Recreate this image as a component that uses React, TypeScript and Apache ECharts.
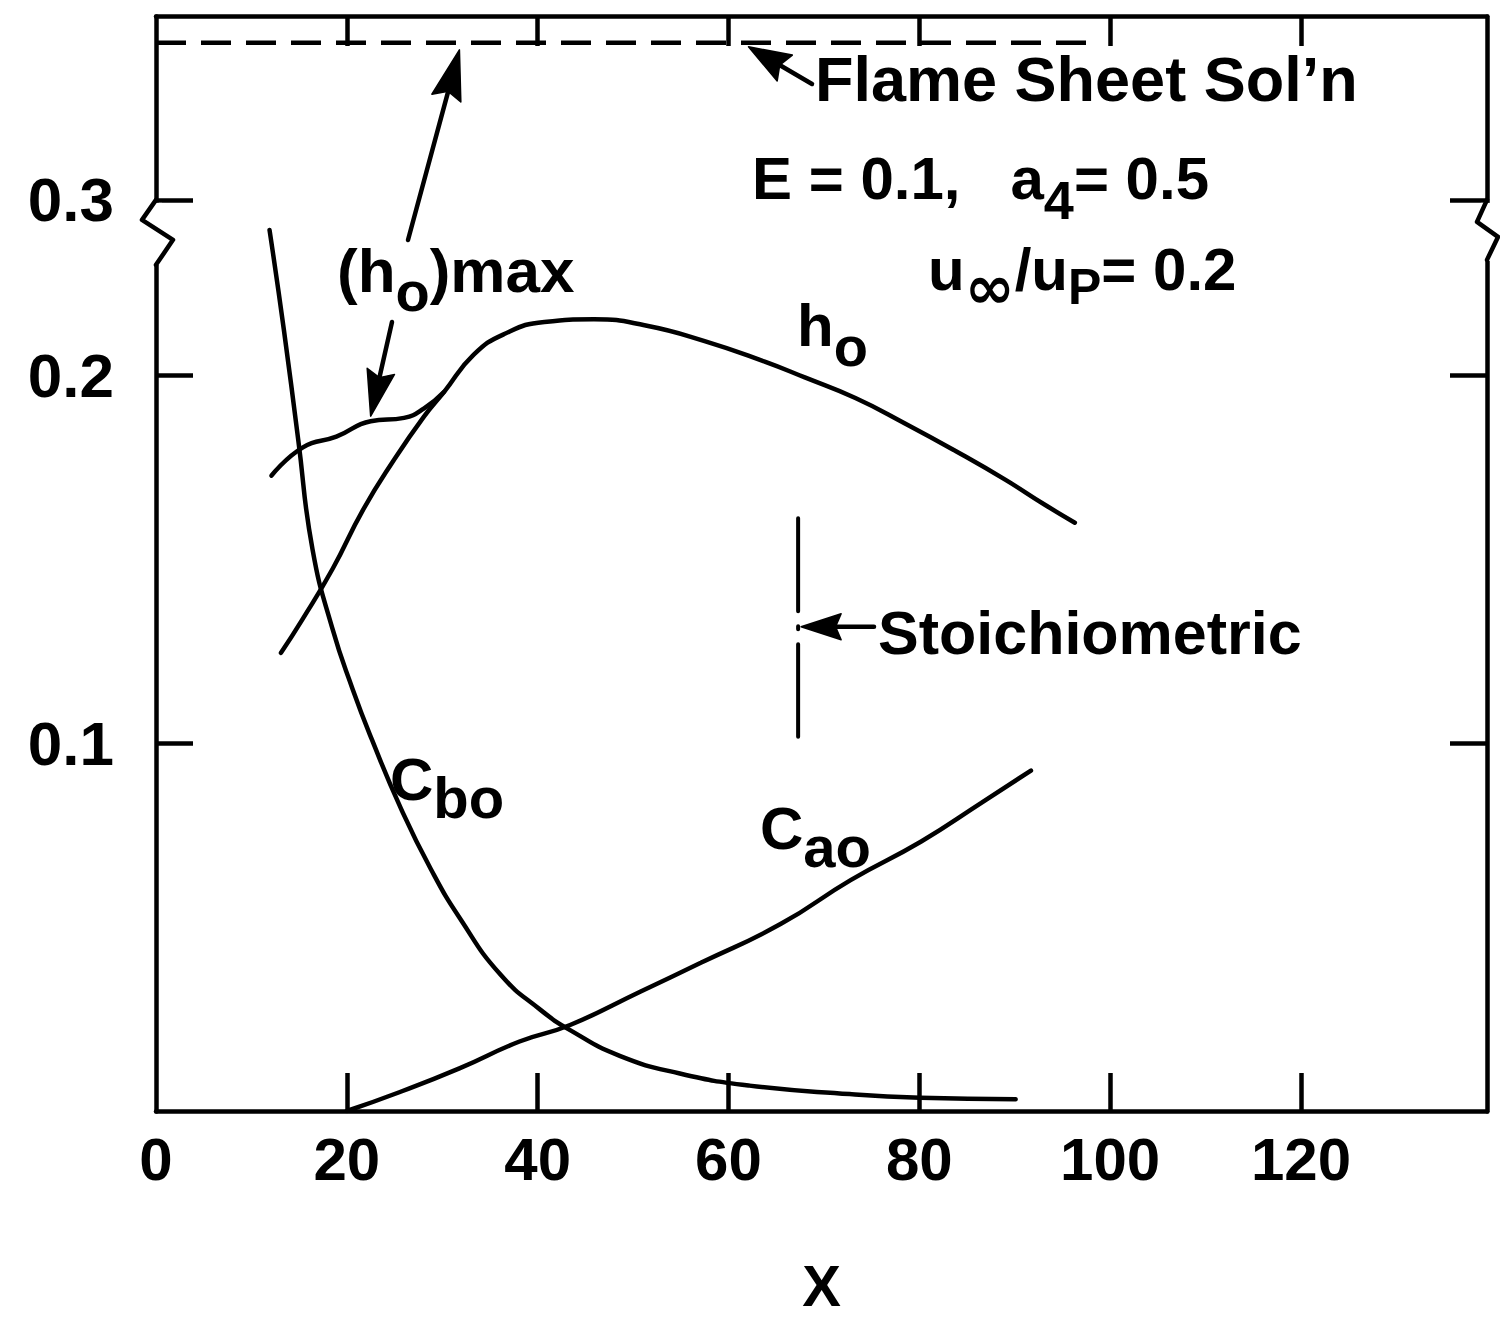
import React, { useEffect, useRef } from "react";
import * as echarts from "echarts";

const FONT_FAMILY = "'Liberation Sans', Arial, Helvetica, sans-serif";
const SYMBOL_FAMILY = "'DejaVu Sans', sans-serif";
const INK = "#000";

// Axis tick values
const xTicks = [0, 20, 40, 60, 80, 100, 120];
const yTicks = [0.1, 0.2, 0.3];
const xMax = 139.5;
const yMax = 0.35;

// Break in the ordinate between the lower and upper pieces of the scale
const yBreakStart = 0.2419;
const yBreakEnd = 0.2941;

// C_bo profile
const cboX = [11.9, 13.4, 14.9, 16.4, 18.5, 20.6, 22.6, 25.7, 28.8, 31.9, 36.1, 40.3, 43.4, 48.6, 54.9, 62.2, 72.7, 80.1, 90.1];
const cboY = [0.2396, 0.2125, 0.1827, 0.1528, 0.1311, 0.1148, 0.1012, 0.0821, 0.0658, 0.0522, 0.0371, 0.0275, 0.022, 0.015, 0.0102, 0.0069, 0.0046, 0.0036, 0.0032];

// C_ao profile
const caoX = [20.0, 25.5, 31.8, 38.1, 43.4, 50.8, 57.1, 65.5, 72.8, 80.2, 86.5, 91.7];
const caoY = [0.0, 0.0051, 0.0116, 0.0189, 0.0234, 0.0325, 0.0403, 0.0509, 0.0628, 0.0733, 0.0838, 0.0926];

// h_o profile
const hoX = [13.1, 15.3, 18.5, 21.7, 24.9, 28.1, 30.2, 33.3, 36.5, 40.7, 45.9, 51.2, 57.5, 63.8, 68.0, 73.3, 78.5, 83.8, 89.0, 93.2, 96.3];
const hoY = [0.1246, 0.1335, 0.1474, 0.1635, 0.1769, 0.1889, 0.1956, 0.2057, 0.2113, 0.2146, 0.2153, 0.2137, 0.2094, 0.2038, 0.1995, 0.1939, 0.187, 0.1795, 0.1717, 0.1648, 0.16];

// (h_o)max branch, joining h_o
const hoMaxX = [12.1, 15.4, 18.9, 22.5, 26.0, 28.1, 30.2];
const hoMaxY = [0.1728, 0.1805, 0.1834, 0.1876, 0.1885, 0.1911, 0.1956];

// Flame sheet solution level
const flameSheetX = [0, 97.5];
const flameSheetY = [0.3427, 0.3427];

// Stoichiometric location
const stoichX = [67.3, 67.3];
const stoichY = [0.1612, 0.1018];
const stoichPoint = [67.3, 0.1317];

// Arrow targets on the curves
const hoMaxArrowTarget = [22.5, 0.1876];
const flameArrowTargetX = [31.8, 62.1];

const pairs = (xs: number[], ys: number[]) => xs.map((x, i) => [x, ys[i]]);

const axisLine = { show: true, onZero: false, lineStyle: { color: INK, width: 4.5 } };
const tickStyle = { color: INK, width: 4.5 };
const labelFont = { color: INK, fontFamily: FONT_FAMILY, fontWeight: "bold" as const, fontSize: 62 };

const curve = (name: string, xs: number[], ys: number[]) => ({
  type: "line",
  name,
  data: pairs(xs, ys),
  showSymbol: false,
  symbol: "none",
  smooth: 0.5,
  lineStyle: { color: INK, width: 4.5, cap: "round" },
  z: 5,
});

function yAxisCfg(position: "left" | "right") {
  return {
    type: "value",
    position,
    min: 0,
    max: yMax,
    breaks: [{ start: yBreakStart, end: yBreakEnd, gap: 0 }],
    breakArea: { show: false },
    axisLine,
    splitLine: { show: false },
    axisTick: { show: true, inside: true, length: 37, lineStyle: tickStyle, customValues: yTicks },
    axisLabel:
      position === "left"
        ? { show: true, margin: 42, customValues: yTicks, formatter: (v: number) => v.toFixed(1), ...labelFont }
        : { show: false },
  };
}

function xAxisCfg(position: "bottom" | "top") {
  const base: any = {
    type: "value",
    position,
    min: 0,
    max: xMax,
    axisLine,
    splitLine: { show: false },
    axisTick: {
      show: true,
      inside: true,
      length: position === "bottom" ? 38 : 30,
      lineStyle: tickStyle,
      customValues: xTicks.filter((v) => v > 0),
    },
    axisLabel:
      position === "bottom"
        ? { show: true, margin: 18, customValues: xTicks, formatter: (v: number) => String(v), ...labelFont, fontSize: 60 }
        : { show: false },
  };
  if (position === "bottom") {
    base.name = "X";
    base.nameLocation = "middle";
    base.nameGap = 145;
    base.nameTextStyle = { ...labelFont, fontSize: 58 };
  }
  return base;
}

export default function App() {
  const ref = useRef<HTMLDivElement>(null);

  useEffect(() => {
    const el = ref.current;
    if (!el) return;
    const chart = echarts.init(el, undefined, { renderer: "svg" });

    chart.setOption({
      animation: false,
      backgroundColor: "#fff",
      grid: { left: 156, right: 13, top: 16, bottom: 199, containLabel: false },
      xAxis: [xAxisCfg("bottom"), xAxisCfg("top")],
      yAxis: [yAxisCfg("left"), yAxisCfg("right")],
      series: [
        curve("C_bo", cboX, cboY),
        curve("C_ao", caoX, caoY),
        curve("h_o", hoX, hoY),
        curve("(h_o)max", hoMaxX, hoMaxY),
        {
          type: "line",
          name: "Flame Sheet Sol'n",
          data: pairs(flameSheetX, flameSheetY),
          showSymbol: false,
          symbol: "none",
          lineStyle: { color: INK, width: 4.5, type: [30, 15] },
          z: 4,
        },
        {
          type: "line",
          name: "Stoichiometric",
          data: pairs(stoichX, stoichY),
          showSymbol: false,
          symbol: "none",
          lineStyle: { color: INK, width: 4, type: [93, 15, 3, 15, 300], cap: "round" },
          z: 4,
        },
      ],
    });

    const px = (x: number, y: number) =>
      chart.convertToPixel({ xAxisIndex: 0, yAxisIndex: 0 }, [x, y]) as number[];

    const g: any[] = [];
    const poly = (pts: number[][], w = 4.5, z = 100) =>
      g.push({
        type: "polyline",
        shape: { points: pts },
        style: { stroke: INK, lineWidth: w, fill: null, lineCap: "round", lineJoin: "round" },
        z,
      });

    const arrow = (from: number[], tip: number[], len: number, wid: number) => {
      const dx = tip[0] - from[0];
      const dy = tip[1] - from[1];
      const L = Math.hypot(dx, dy);
      const ux = dx / L;
      const uy = dy / L;
      const bx = tip[0] - ux * len;
      const by = tip[1] - uy * len;
      const nx = -uy;
      const ny = ux;
      poly([from, [bx + ux * 6, by + uy * 6]], 4.5);
      g.push({
        type: "polygon",
        shape: {
          points: [
            tip,
            [bx + (nx * wid) / 2, by + (ny * wid) / 2],
            [tip[0] - ux * len * 0.86, tip[1] - uy * len * 0.86],
            [bx - (nx * wid) / 2, by - (ny * wid) / 2],
          ],
        },
        style: { fill: INK, stroke: INK, lineWidth: 1.5, lineJoin: "round" },
        z: 101,
      });
    };

    const ctx = document.createElement("canvas").getContext("2d")!;
    const measure = (t: string, size: number, family: string) => {
      ctx.font = `bold ${size}px ${family}`;
      return ctx.measureText(t).width;
    };
    // parts: [text, fontSize, vertical offset, font family?]
    const label = (x: number, y: number, parts: [string, number, number, string?][]) => {
      let cx = x;
      for (const [t, size, dy, fam] of parts) {
        const family = fam || FONT_FAMILY;
        g.push({
          type: "text",
          x: cx,
          y: y + dy,
          style: {
            text: t,
            fill: INK,
            fontFamily: family,
            fontWeight: "bold",
            fontSize: size,
            textAlign: "left",
            textVerticalAlign: "middle",
            align: "left",
            verticalAlign: "middle",
          },
          z: 100,
        });
        cx += measure(t, size, family);
      }
    };

    // Break marks on both vertical axes, just below the 0.3 tick
    const [lx, y3] = px(0, 0.3);
    const [rx] = px(xMax, 0.3);
    g.push({ type: "rect", shape: { x: lx - 6, y: y3 + 3, width: 12, height: 62 }, style: { fill: "#fff" }, z: 99 });
    g.push({ type: "rect", shape: { x: rx - 6, y: y3 + 3, width: 12, height: 58 }, style: { fill: "#fff" }, z: 99 });
    poly([[lx, y3], [lx - 14, y3 + 20], [lx + 17, y3 + 40], [lx, y3 + 65]]);
    poly([[rx, y3], [rx - 10, y3 + 22], [rx + 11, y3 + 37], [rx, y3 + 60]]);

    // Arrows
    const flameTipA = px(flameArrowTargetX[0], flameSheetY[0]);
    arrow([408, 240], [flameTipA[0], flameTipA[1] + 7], 50, 30);
    const shoulder = px(hoMaxArrowTarget[0], hoMaxArrowTarget[1]);
    arrow([392, 322], [shoulder[0], shoulder[1] - 5], 46, 28);
    const flameTipB = px(flameArrowTargetX[1], flameSheetY[0]);
    arrow([812, 84], [flameTipB[0], flameTipB[1] + 4], 42, 30);
    const stoichTip = px(stoichPoint[0], stoichPoint[1]);
    arrow([874, stoichTip[1]], [stoichTip[0] + 3, stoichTip[1]], 40, 26);

    // Annotations
    label(815, 79, [["Flame Sheet Sol\u2019n", 63, 0]]);
    label(752, 178, [["E = 0.1,   a", 60, 0], ["4", 54, 22], ["= 0.5", 60, 0]]);
    label(928, 269, [["u", 60, 0], ["\u221e", 60, 18, SYMBOL_FAMILY], ["/u", 60, 0], ["P", 50, 18], ["= 0.2", 60, 0]]);
    label(337, 270, [["(h", 62, 0], ["o", 56, 21], [")max", 62, 0]]);
    label(797, 325, [["h", 60, 0], ["o", 56, 21]]);
    label(390, 779, [["C", 60, 0], ["bo", 58, 18]]);
    label(760, 828, [["C", 60, 0], ["ao", 58, 18]]);
    label(878, 633, [["Stoichiometric", 61, 0]]);

    chart.setOption({ graphic: { elements: g } });

    return () => chart.dispose();
  }, []);

  return <div ref={ref} style={{ position: "fixed", left: 0, top: 0, width: 1500, height: 1319 }} />;
}
